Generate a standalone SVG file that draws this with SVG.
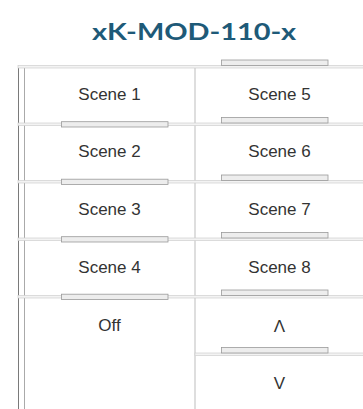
<svg xmlns="http://www.w3.org/2000/svg" width="363" height="409" viewBox="0 0 363 409">
<style>
.title{font-family:"Lato","Liberation Sans",Arial,sans-serif;font-weight:bold;font-size:23px;fill:#1e5a78}
.lbl{font-family:"Liberation Sans",Arial,sans-serif;font-size:17px;fill:#333;text-anchor:middle}
.sep{fill:#f3f3f3;stroke:#cfcfcf;stroke-width:0.7}
.led{fill:#ededed;stroke:#9a9a9a;stroke-width:0.8}
.vl{stroke-width:1;fill:none}
</style>
<rect width="363" height="409" fill="#fff"/>
<text class="title" x="92" y="39.5" textLength="204" lengthAdjust="spacingAndGlyphs">xK-MOD-110-x</text>
<g id="grid">
<line class="vl" x1="18.5" y1="66" x2="18.5" y2="409" stroke="#7a7a7a"/>
<line class="vl" x1="24.5" y1="66" x2="24.5" y2="409" stroke="#aaaaaa"/>
<line class="vl" x1="195" y1="66" x2="195" y2="409" stroke="#bdbdbd"/>
<rect class="sep" x="18" y="65.5" width="346" height="2.5"/>
<rect class="sep" x="18" y="123" width="346" height="2.5"/>
<rect class="sep" x="18" y="180.5" width="346" height="2.5"/>
<rect class="sep" x="18" y="238" width="346" height="2.5"/>
<rect class="sep" x="18" y="295.5" width="346" height="2.5"/>
<rect class="sep" x="195" y="353" width="169" height="2.5"/>
</g>
<g id="scene1"><text class="lbl" x="109.5" y="100">Scene 1</text></g>
<g id="scene2"><rect class="led" x="61.5" y="121.7" width="106.5" height="5.3"/><text class="lbl" x="109.5" y="157">Scene 2</text></g>
<g id="scene3"><rect class="led" x="61.5" y="179.2" width="106.5" height="5.3"/><text class="lbl" x="109.5" y="214.5">Scene 3</text></g>
<g id="scene4"><rect class="led" x="61.5" y="236.7" width="106.5" height="5.3"/><text class="lbl" x="109.5" y="272.5">Scene 4</text></g>
<g id="off"><rect class="led" x="61.5" y="294.2" width="106.5" height="5.3"/><text class="lbl" x="109.5" y="331">Off</text></g>
<g id="scene5"><rect class="led" x="221.5" y="60" width="106.5" height="5.5"/><text class="lbl" x="279.5" y="100">Scene 5</text></g>
<g id="scene6"><rect class="led" x="221.5" y="117.5" width="106.5" height="5.5"/><text class="lbl" x="279.5" y="157">Scene 6</text></g>
<g id="scene7"><rect class="led" x="221.5" y="175" width="106.5" height="5.5"/><text class="lbl" x="279.5" y="214.5">Scene 7</text></g>
<g id="scene8"><rect class="led" x="221.5" y="232.5" width="106.5" height="5.5"/><text class="lbl" x="279.5" y="272.5">Scene 8</text></g>
<g id="up"><rect class="led" x="221.5" y="290" width="106.5" height="5.5"/><text class="lbl" x="279.5" y="331.5">Λ</text></g>
<g id="down"><rect class="led" x="221.5" y="347.5" width="106.5" height="5.5"/><text class="lbl" x="279.5" y="388.5">V</text></g>
</svg>
